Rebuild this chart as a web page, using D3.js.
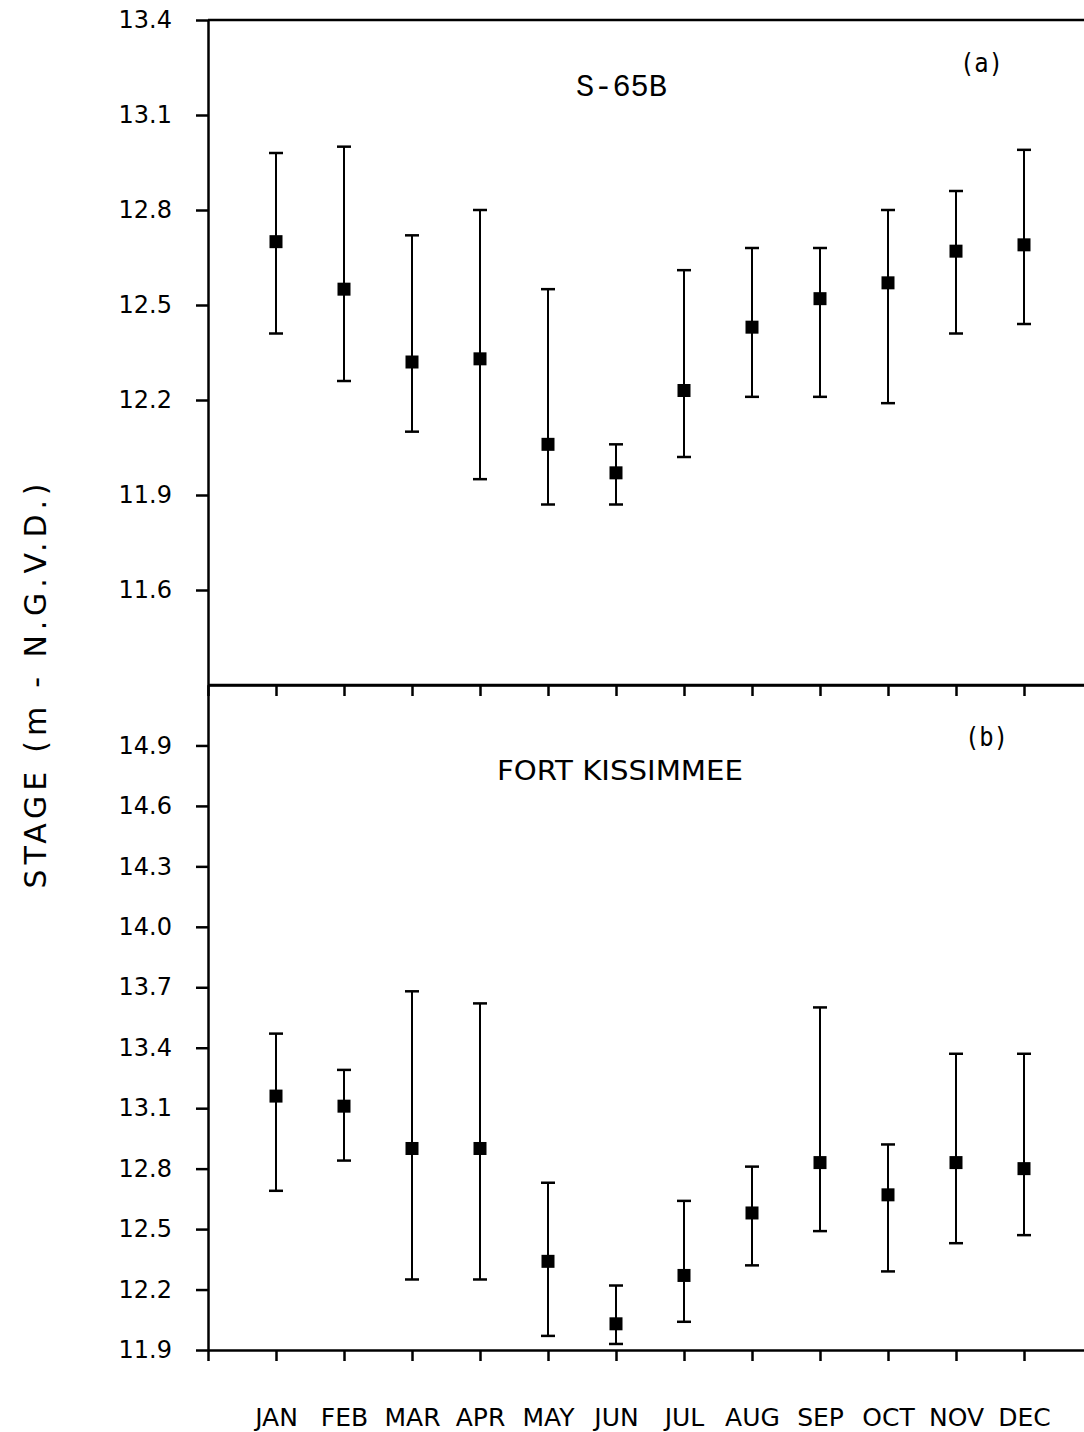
<!DOCTYPE html>
<html>
<head>
<meta charset="utf-8">
<script src="https://cdn.jsdelivr.net/npm/d3@7"></script>
<style>
  body { margin: 0; background: #fff; }
  text { fill: #000; }
</style>
</head>
<body>
<script>
// monthly stage, mean with high / low range
const months = ["JAN", "FEB", "MAR", "APR", "MAY", "JUN", "JUL", "AUG", "SEP", "OCT", "NOV", "DEC"];

// (a) S-65B
const s65bMean = [12.70, 12.55, 12.32, 12.33, 12.06, 11.97, 12.23, 12.43, 12.52, 12.57, 12.67, 12.69];
const s65bHigh = [12.98, 13.00, 12.72, 12.80, 12.55, 12.06, 12.61, 12.68, 12.68, 12.80, 12.86, 12.99];
const s65bLow  = [12.41, 12.26, 12.10, 11.95, 11.87, 11.87, 12.02, 12.21, 12.21, 12.19, 12.41, 12.44];
const s65bTicks = [11.6, 11.9, 12.2, 12.5, 12.8, 13.1, 13.4];

// (b) Fort Kissimmee
const fkMean = [13.16, 13.11, 12.90, 12.90, 12.34, 12.03, 12.27, 12.58, 12.83, 12.67, 12.83, 12.80];
const fkHigh = [13.47, 13.29, 13.68, 13.62, 12.73, 12.22, 12.64, 12.81, 13.60, 12.92, 13.37, 13.37];
const fkLow  = [12.69, 12.84, 12.25, 12.25, 11.97, 11.93, 12.04, 12.32, 12.49, 12.29, 12.43, 12.47];
const fkTicks = [11.9, 12.2, 12.5, 12.8, 13.1, 13.4, 13.7, 14.0, 14.3, 14.6, 14.9];

const width = 1084, height = 1432;

const svg = d3.select("body")
    .append("svg")
    .attr("width", width)
    .attr("height", height);

// month index 1..12, 0 = axis origin
const x = d3.scaleLinear()
    .domain([0, 13])
    .range([208, 1092]);

function panel(opts) {
    const y = d3.scaleLinear()
        .domain(opts.domain)
        .range([opts.bottom, opts.top]);

    const g = svg.append("g");

    // top border
    g.append("line")
        .attr("x1", x(0)).attr("x2", width)
        .attr("y1", opts.top).attr("y2", opts.top)
        .attr("stroke", "#000").attr("stroke-width", 2.5);

    // left axis
    const ya = g.append("g")
        .attr("transform", "translate(" + x(0) + ",0)")
        .call(d3.axisLeft(y)
            .tickValues(opts.ticks)
            .tickFormat(d3.format(".1f"))
            .tickSize(12)
            .tickSizeOuter(0)
            .tickPadding(24));
    ya.selectAll("path, line").attr("stroke", "#000").attr("stroke-width", 2.5);
    ya.attr("font-size", null);
    ya.selectAll("text")
        .style("font-family", "DejaVu Sans")
        .style("font-size", "24px");

    // bottom axis
    const xa = g.append("g")
        .attr("transform", "translate(0," + opts.bottom + ")")
        .call(d3.axisBottom(x)
            .tickValues(d3.range(0, 14))
            .tickFormat(i => opts.labels ? (months[i - 1] || "") : "")
            .tickSize(11)
            .tickSizeOuter(0)
            .tickPadding(47));
    xa.select(".domain").attr("stroke", "#000").attr("stroke-width", 2.5);
    xa.selectAll("line").attr("stroke", "#000").attr("stroke-width", 2.5);
    xa.selectAll("text")
        .style("font-family", "DejaVu Sans")
        .style("font-size", "25px");

    // error bars
    const bars = g.selectAll(".bar")
        .data(opts.mean.map((m, i) => ({ i: i + 1, m: m, hi: opts.high[i], lo: opts.low[i] })))
        .enter()
        .append("g");

    bars.append("line")
        .attr("x1", d => x(d.i)).attr("x2", d => x(d.i))
        .attr("y1", d => y(d.hi)).attr("y2", d => y(d.lo))
        .attr("stroke", "#000").attr("stroke-width", 2);

    bars.append("line")
        .attr("x1", d => x(d.i) - 7).attr("x2", d => x(d.i) + 7)
        .attr("y1", d => y(d.hi)).attr("y2", d => y(d.hi))
        .attr("stroke", "#000").attr("stroke-width", 2.5);

    bars.append("line")
        .attr("x1", d => x(d.i) - 7).attr("x2", d => x(d.i) + 7)
        .attr("y1", d => y(d.lo)).attr("y2", d => y(d.lo))
        .attr("stroke", "#000").attr("stroke-width", 2.5);

    bars.append("rect")
        .attr("x", d => x(d.i) - 6.5)
        .attr("y", d => y(d.m) - 6.5)
        .attr("width", 13)
        .attr("height", 13)
        .attr("fill", "#000");

    // station name and panel letter
    g.append("text")
        .attr("x", opts.nameX).attr("y", opts.nameY)
        .attr("font-family", opts.nameFont)
        .attr("font-size", opts.nameSize)
        .attr("textLength", opts.nameLen)
        .attr("lengthAdjust", "spacingAndGlyphs")
        .text(opts.name);

    g.append("text")
        .attr("x", opts.letterX).attr("y", opts.letterY)
        .attr("font-family", "DejaVu Sans Mono")
        .attr("font-size", 26)
        .attr("textLength", 43)
        .attr("lengthAdjust", "spacingAndGlyphs")
        .text(opts.letter);
}

panel({
    domain: [11.3, 13.4], top: 20, bottom: 685,
    ticks: s65bTicks, mean: s65bMean, high: s65bHigh, low: s65bLow,
    name: "S-65B", nameX: 576, nameY: 96, nameFont: "Liberation Mono", nameSize: 32, nameLen: 91,
    letter: "(a)", letterX: 960, letterY: 72,
    labels: false
});

panel({
    domain: [11.9, 15.2], top: 685, bottom: 1350,
    ticks: fkTicks, mean: fkMean, high: fkHigh, low: fkLow,
    name: "FORT KISSIMMEE", nameX: 497, nameY: 780, nameFont: "DejaVu Sans", nameSize: 26, nameLen: 246,
    letter: "(b)", letterX: 965, letterY: 746,
    labels: true
});

// y axis title
svg.append("text")
    .attr("transform", "translate(46,686) rotate(-90)")
    .attr("text-anchor", "middle")
    .attr("font-family", "DejaVu Sans")
    .attr("font-size", 30)
    .attr("textLength", 405)
    .attr("lengthAdjust", "spacing")
    .text("STAGE (m - N.G.V.D.)");
</script>
</body>
</html>
